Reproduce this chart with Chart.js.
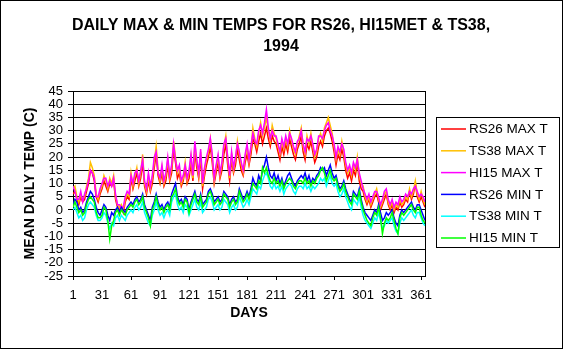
<!DOCTYPE html>
<html>
<head>
<meta charset="utf-8">
<script src="https://cdn.jsdelivr.net/npm/chart.js@4.4.0/dist/chart.umd.min.js"></script>
<style>
  body { margin: 0; background: #fff; }
  canvas { display: block; }
</style>
</head>
<body>
<canvas id="tempChart" width="563" height="349"></canvas>
<script>
const titleLines = ["DAILY MAX & MIN TEMPS FOR RS26, HI15MET & TS38,", "1994"];
const xTitle = "DAYS";
const yTitle = "MEAN DAILY TEMP (C)";

// sampled days (every other day of 1994), one row per 30 days
const days = [1,3,5,7,9,11,13,15,17,19,21,23,25,27,29,
  31,33,35,37,39,41,43,45,47,49,51,53,55,57,59,
  61,63,65,67,69,71,73,75,77,79,81,83,85,87,89,
  91,93,95,97,99,101,103,105,107,109,111,113,115,117,119,
  121,123,125,127,129,131,133,135,137,139,141,143,145,147,149,
  151,153,155,157,159,161,163,165,167,169,171,173,175,177,179,
  181,183,185,187,189,191,193,195,197,199,201,203,205,207,209,
  211,213,215,217,219,221,223,225,227,229,231,233,235,237,239,
  241,243,245,247,249,251,253,255,257,259,261,263,265,267,269,
  271,273,275,277,279,281,283,285,287,289,291,293,295,297,299,
  301,303,305,307,309,311,313,315,317,319,321,323,325,327,329,
  331,333,335,337,339,341,343,345,347,349,351,353,355,357,359,
  361,363,365];
const tickDays = [1,31,61,91,121,151,181,211,241,271,301,331,361];

const seriesNames = ["RS26 MAX T", "TS38 MAX T", "HI15 MAX T", "RS26 MIN T", "TS38 MIN T", "HI15 MIN T"];
const seriesColors = ["#ff0000", "#ffc000", "#ff00ff", "#0000ff", "#00ffff", "#00ff00"];

const rs26Max = [6,7,4,2,5,3,4,7,10,15,14,11,5,3,6,
  8,11,9,7,10,9,11,4,1,0,1,-1,3,5,4,
  12,8,11,14,9,12,18,9,6,11,7,10,16,21,13,
  10,14,9,11,17,11,14,23,18,12,14,9,11,16,10,
  12,18,11,22,16,12,20,8,13,17,20,24,18,10,14,
  18,12,15,21,25,17,11,19,14,17,23,19,15,13,18,
  21,17,21,27,25,22,26,29,25,28,31,27,24,28,26,
  25,22,19,24,21,25,22,27,24,21,19,23,25,28,22,
  19,25,23,26,22,18,20,24,26,24,28,30,31,29,26,
  22,17,21,19,23,20,15,12,14,11,15,13,18,11,8,
  7,4,2,4,1,3,5,6,3,0,2,4,6,2,0,
  2,-1,1,0,3,1,2,4,3,7,4,6,10,5,3,
  5,3,1];
const ts38Max = [8,9,5,3,6,4,5,9,12,18,16,13,6,4,7,
  9,13,11,8,12,10,13,5,2,1,2,0,4,6,5,
  14,9,13,16,10,14,21,10,7,13,8,12,18,24,15,
  11,16,10,13,19,12,16,26,20,14,16,10,12,18,11,
  14,20,12,25,18,13,22,9,15,19,22,27,20,11,16,
  20,13,17,24,28,19,12,21,15,19,26,21,17,14,20,
  24,18,23,31,27,24,29,33,28,31,35,30,26,32,29,
  27,24,21,26,23,27,24,30,26,23,21,25,28,31,24,
  21,28,25,29,24,20,22,27,29,26,31,33,35,32,29,
  24,19,23,21,26,22,17,14,16,13,17,15,20,13,10,
  9,5,3,5,2,4,6,8,4,1,3,6,7,3,1,
  3,0,2,1,4,2,3,5,4,8,5,7,11,6,4,
  7,4,2];
const hi15Max = [9,7,4,4,7,3,6,8,11,15,14,12,5,5,8,
  10,12,12,9,11,9,12,6,2,2,1,1,5,7,6,
  13,10,14,15,11,15,19,11,8,14,9,13,20,22,14,
  12,17,11,14,20,13,17,25,19,15,17,11,13,17,12,
  15,21,13,26,19,14,23,10,16,20,23,27,21,12,17,
  21,14,18,25,27,20,13,22,16,20,25,22,18,15,21,
  25,19,24,29,26,25,30,32,29,33,38,31,27,30,28,
  28,25,22,27,24,28,25,29,27,24,22,26,27,30,25,
  22,27,26,28,25,21,23,28,28,27,30,32,33,30,28,
  25,20,24,22,25,23,18,15,17,14,18,16,19,14,11,
  8,6,4,6,3,5,7,7,5,2,4,7,8,4,2,
  4,1,3,2,5,3,4,6,5,7,6,8,9,7,5,
  6,5,3];
const rs26Min = [2,4,3,0,1,-1,0,3,5,7,6,4,1,-1,-2,
  0,2,1,-2,-4,-1,-2,0,1,-1,1,0,-1,1,2,
  3,2,4,5,3,4,6,2,0,-2,-4,1,3,6,3,
  1,2,0,2,3,1,6,8,10,5,3,4,2,5,4,
  0,3,5,7,4,3,6,2,3,4,7,8,6,3,4,
  5,3,4,7,6,5,2,4,5,3,4,8,6,4,5,
  7,5,8,12,10,9,13,11,15,17,20,16,13,12,14,
  11,13,10,12,9,11,13,14,12,10,9,11,12,13,12,
  14,11,13,10,12,11,13,14,16,15,16,13,15,17,14,
  12,13,10,8,9,11,8,6,4,3,7,6,5,8,4,
  1,-1,-2,-3,-4,-2,0,-1,2,-1,-4,-3,-1,-2,-1,
  0,-3,-5,-6,-2,0,-1,0,1,2,3,1,0,2,2,
  0,-2,-4];
const ts38Min = [0,1,-1,-3,-2,-4,-3,0,2,3,2,1,-2,-4,-4,
  -3,-1,-2,-5,-7,-5,-6,-3,-2,-4,-2,-3,-4,-2,-1,
  0,-1,1,2,0,1,3,-1,-3,-5,-6,-2,0,3,0,
  -2,-1,-3,-1,0,-2,3,5,6,2,0,1,-1,2,1,
  -2,0,2,4,1,0,3,-1,0,1,4,5,3,0,1,
  2,0,1,4,3,2,-1,1,2,0,1,5,3,1,2,
  4,2,5,8,7,6,9,8,11,13,14,12,9,8,10,
  8,9,7,9,6,8,9,10,9,7,6,8,9,9,8,
  10,8,9,7,9,8,9,10,12,11,12,9,11,13,10,
  9,10,7,5,6,8,5,3,1,0,4,3,2,5,1,
  -2,-4,-5,-6,-7,-5,-3,-4,-1,-4,-7,-6,-4,-5,-4,
  -3,-6,-8,-9,-5,-3,-4,-3,-2,-1,0,-2,-3,-1,-1,
  -3,-5,-6];
const hi15Min = [1,3,1,-1,0,-2,-1,2,4,5,4,3,-1,-3,-3,
  -2,1,0,-4,-11,-6,-4,-1,0,-2,0,-1,-2,0,1,
  2,1,3,4,2,3,5,1,-1,-3,-6,0,2,5,2,
  0,1,-1,1,2,0,5,6,8,4,2,3,1,4,3,
  -1,2,4,6,3,2,5,1,2,3,6,7,5,2,3,
  4,2,3,6,5,4,1,3,4,2,3,7,5,3,4,
  6,4,7,10,9,8,11,10,16,14,16,13,11,10,12,
  10,11,9,11,8,10,11,12,11,9,8,10,11,11,10,
  12,10,11,9,11,10,12,13,15,16,14,11,13,15,12,
  11,12,9,7,8,10,7,5,3,2,6,5,4,7,3,
  0,-2,-4,-5,-6,-3,-1,-2,1,-3,-9,-5,-3,-4,-3,
  -1,-4,-7,-9,-3,-1,-2,-1,0,1,2,0,-1,1,1,
  -2,-4,-5];

const seriesValues = [rs26Max, ts38Max, hi15Max, rs26Min, ts38Min, hi15Min];

const font = '"Liberation Sans", Arial, sans-serif';

const datasets = seriesNames.map((name, i) => ({
  label: name,
  data: days.map((d, k) => ({ x: d, y: seriesValues[i][k] })),
  borderColor: seriesColors[i],
  backgroundColor: seriesColors[i],
  borderWidth: 1.5,
  pointRadius: 0,
  tension: 0,
  order: seriesNames.length - i   // later series drawn on top, like Excel
}));

// titles, legend box and frame
const decorations = {
  id: 'decorations',
  beforeDraw(chart) {
    const c = chart.ctx;
    c.save();
    c.fillStyle = '#fff';
    c.fillRect(0, 0, chart.width, chart.height);
    c.restore();
  },
  afterDraw(chart) {
    const c = chart.ctx;
    const a = chart.chartArea;
    c.save();
    c.strokeStyle = '#000';
    c.lineWidth = 1;
    const rx = Math.round(a.right) + 0.5;
    c.beginPath();
    c.moveTo(rx, Math.round(a.top));
    c.lineTo(rx, Math.round(a.bottom) + 1);
    c.stroke();
    c.strokeRect(0.5, 0.5, chart.width - 1, chart.height - 1);

    c.fillStyle = '#000';
    c.textAlign = 'center';
    c.textBaseline = 'middle';
    c.font = 'bold 16px ' + font;
    c.fillText(titleLines[0], 281, 26);
    c.fillText(titleLines[1], 281, 47);

    c.font = 'bold 14px ' + font;
    c.fillText(xTitle, (a.left + a.right) / 2, 313);
    c.save();
    c.translate(30, (a.top + a.bottom) / 2);
    c.rotate(-Math.PI / 2);
    c.fillText(yTitle, 0, 0);
    c.restore();

    // legend
    c.strokeRect(436.5, 117.5, 123, 130);
    c.font = '13.5px ' + font;
    c.textAlign = 'left';
    seriesNames.forEach((name, i) => {
      const y = 129 + i * 21.8;
      c.strokeStyle = seriesColors[i];
      c.lineWidth = 1.5;
      c.beginPath();
      c.moveTo(441, y);
      c.lineTo(466, y);
      c.stroke();
      c.fillStyle = '#000';
      c.fillText(name, 469, y + 0.5);
    });
    c.restore();
  }
};

new Chart(document.getElementById('tempChart').getContext('2d'), {
  type: 'line',
  data: { datasets },
  options: {
    responsive: false,
    animation: false,
    events: [],
    layout: { padding: { left: 0, top: 91, right: 138, bottom: 0 } },
    plugins: {
      legend: { display: false },
      title: { display: false },
      tooltip: { enabled: false }
    },
    scales: {
      x: {
        type: 'linear',
        min: 1,
        max: 365,
        afterBuildTicks: (scale) => { scale.ticks = tickDays.map(v => ({ value: v })); },
        afterFit: (scale) => { scale.height = 73; },
        ticks: { color: '#000', font: { family: font, size: 13 }, padding: 8, maxRotation: 0, autoSkip: false },
        grid: { drawOnChartArea: false, drawTicks: true, tickLength: 4, color: '#000' },
        border: { display: true, color: '#000', width: 1 }
      },
      y: {
        min: -25,
        max: 45,
        afterFit: (scale) => { scale.width = 73; },
        ticks: { stepSize: 5, color: '#000', font: { family: font, size: 13 }, padding: 5, autoSkip: false },
        grid: { color: '#000', lineWidth: 1, tickLength: 5 },
        border: { display: true, color: '#000', width: 1 }
      }
    }
  },
  plugins: [decorations]
});
</script>
</body>
</html>
